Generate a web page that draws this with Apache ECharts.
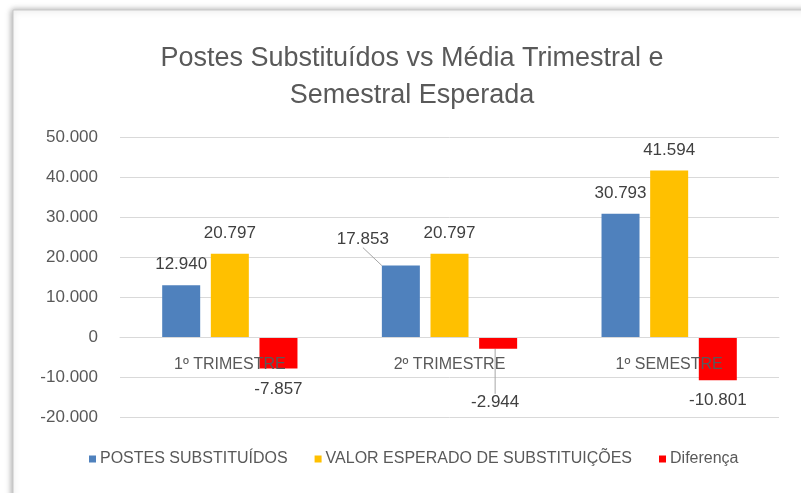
<!DOCTYPE html>
<html>
<head>
<meta charset="utf-8">
<script src="https://cdn.jsdelivr.net/npm/echarts@6/dist/echarts.min.js"></script>
<style>
  html, body { margin: 0; padding: 0; background: #fff; }
  #chart { width: 801px; height: 493px; }
</style>
</head>
<body>
<div id="chart"></div>
<script>
// dados do gráfico
var categorias = ["1º TRIMESTRE", "2º TRIMESTRE", "1º SEMESTRE"];
var postesSubstituidos = [12940, 17853, 30793];
var valorEsperado = [20797, 20797, 41594];
var diferenca = [-7857, -2944, -10801];
var nomesSeries = ["POSTES SUBSTITUÍDOS", "VALOR ESPERADO DE SUBSTITUIÇÕES", "Diferença"];

var fonte = "'Liberation Sans', Arial, sans-serif";

// formato 12.940
function fmt(v) {
  var s = Math.abs(v).toString().replace(/\B(?=(\d{3})+(?!\d))/g, ".");
  return (v < 0 ? "-" : "") + s;
}

var chart = echarts.init(document.getElementById("chart"), null, { renderer: "canvas" });

var labelBase = {
  show: true,
  distance: 12,
  fontSize: 17,
  fontFamily: fonte,
  color: "#404040",
  formatter: function (p) { return fmt(p.value); }
};

chart.setOption({
  animation: false,
  color: ["#4F81BD", "#FFC000", "#FF0000"],
  // moldura com sombra (estilo excel)
  graphic: [{
    type: "rect",
    z: -10,
    silent: true,
    shape: { x: 13, y: 10, width: 830, height: 530 },
    style: {
      fill: "#fff",
      stroke: "#c8c8c8",
      lineWidth: 1,
      shadowBlur: 6,
      shadowColor: "rgba(0,0,0,0.35)",
      shadowOffsetX: -1,
      shadowOffsetY: 0
    }
  }],
  title: {
    text: "Postes Substituídos vs Média Trimestral e\nSemestral Esperada",
    left: 412,
    top: 40,
    padding: 0,
    textAlign: "center",
    textStyle: {
      fontFamily: fonte,
      fontSize: 27,
      fontWeight: "normal",
      color: "#595959",
      lineHeight: 37
    }
  },
  legend: {
    data: nomesSeries,
    left: 89,
    top: 451,
    padding: 0,
    itemWidth: 7,
    itemHeight: 7,
    itemGap: 27,
    icon: "rect",
    textStyle: { fontFamily: fonte, fontSize: 16, color: "#595959", padding: [0, 0, 0, -1] }
  },
  grid: { left: 120, right: 22, top: 137, bottom: 76 },
  xAxis: {
    type: "category",
    data: categorias,
    // eixo das categorias sobre a linha do zero
    offset: -80,
    z: 5,
    axisTick: { show: false },
    axisLine: { onZero: false, lineStyle: { color: "#d9d9d9" } },
    axisLabel: { margin: 20, fontFamily: fonte, fontSize: 16, color: "#595959" }
  },
  yAxis: {
    type: "value",
    min: -20000,
    max: 50000,
    interval: 10000,
    axisLine: { show: false },
    axisTick: { show: false },
    splitLine: { lineStyle: { color: "#d9d9d9" } },
    axisLabel: {
      margin: 22,
      fontFamily: fonte,
      fontSize: 17,
      color: "#595959",
      formatter: fmt
    }
  },
  series: [
    {
      name: nomesSeries[0],
      type: "bar",
      barWidth: 38,
      barGap: "28%",
      data: postesSubstituidos.map(function (v, i) {
        return i === 1 ? { value: v, labelLine: { show: true } } : v;
      }),
      label: Object.assign({ position: "top" }, labelBase),
      labelLine: { show: false, lineStyle: { color: "#a6a6a6", width: 1 } }
    },
    {
      name: nomesSeries[1],
      type: "bar",
      barWidth: 38,
      barGap: "28%",
      data: valorEsperado,
      label: Object.assign({ position: "top" }, labelBase)
    },
    {
      name: nomesSeries[2],
      type: "bar",
      barWidth: 38,
      barGap: "28%",
      data: diferenca.map(function (v, i) {
        return i === 1 ? { value: v, labelLine: { show: true } } : v;
      }),
      label: Object.assign({ position: "bottom" }, labelBase),
      labelLine: { show: false, lineStyle: { color: "#a6a6a6", width: 1 } }
    }
  ],
  // rótulos deslocados com linha de chamada
  labelLayout: function (p) {
    if (p.seriesIndex === 0 && p.dataIndex === 1) {
      return { dx: -38, dy: -6 };
    }
    if (p.seriesIndex === 2 && p.dataIndex === 1) {
      return { dx: -3, dy: 33 };
    }
  }
});
</script>
</body>
</html>
